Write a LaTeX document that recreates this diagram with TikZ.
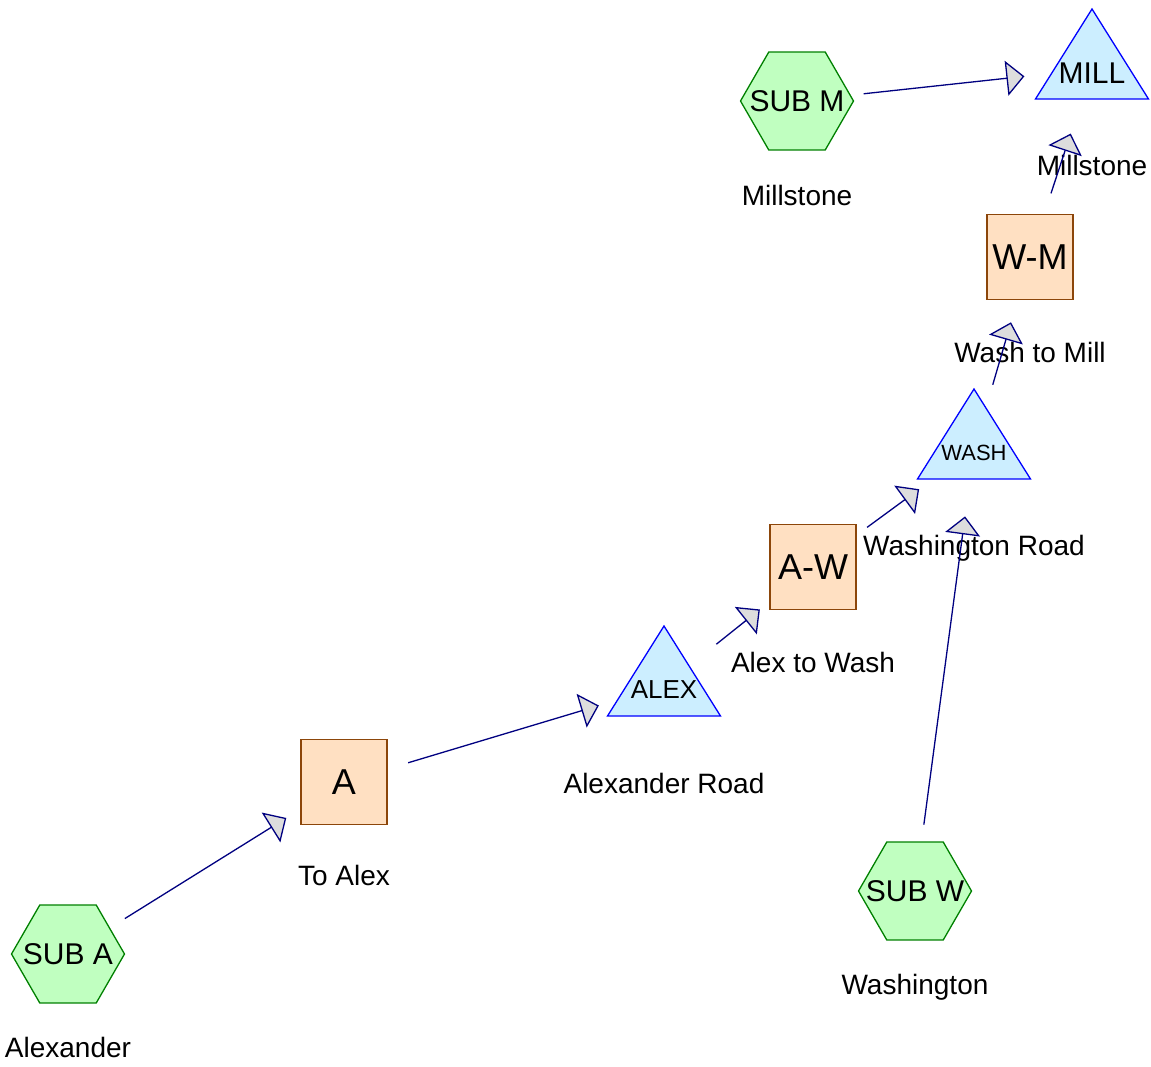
\documentclass[tikz,border=0pt]{standalone}
\usepackage{fontspec}
\setmainfont{Liberation Sans}
\usetikzlibrary{shapes.geometric,arrows.meta}
\definecolor{hexfill}{RGB}{192,255,192}
\definecolor{hexline}{RGB}{0,128,0}
\definecolor{trifill}{RGB}{204,238,255}
\definecolor{triline}{RGB}{0,0,255}
\definecolor{sqfill}{RGB}{255,224,194}
\definecolor{sqline}{RGB}{140,70,10}
\definecolor{edgeline}{RGB}{0,0,128}
\definecolor{arrfill}{RGB}{221,221,221}
\begin{document}
\begin{tikzpicture}[x=0.5pt,y=-0.5pt,
  sub/.style={regular polygon,regular polygon sides=6,minimum size=56.5pt,inner sep=0pt,draw=hexline,fill=hexfill,line width=0.65pt},
  road/.style={regular polygon,regular polygon sides=3,minimum size=65.24pt,inner sep=0pt,yscale=0.9197,transform shape,draw=triline,fill=trifill,line width=0.65pt},
  link/.style={rectangle,minimum width=43pt,minimum height=42.5pt,inner sep=0pt,draw=sqline,fill=sqfill,line width=0.75pt,font=\fontsize{18}{21}\selectfont},
  subtext/.style={inner sep=0pt,font=\fontsize{15}{18}\selectfont},
  roadtext/.style={inner sep=0pt,yshift=-2pt},
  lbl/.style={anchor=base,inner sep=0pt,font=\fontsize{14}{17}\selectfont},
  flow/.style={draw=edgeline,line width=0.65pt,shorten <=33.5pt,shorten >=34pt,-{Triangle[length=9pt,width=17.5pt,fill=arrfill]}}]
\useasboundingbox (0,0) rectangle (1151,1066);
\node[sub,label={[subtext]center:SUB A}] (suba) at (68,954) {};
\node[sub,label={[subtext]center:SUB W}] (subw) at (915,891) {};
\node[sub,label={[subtext]center:SUB M}] (subm) at (797,101) {};
\node[link] (a) at (344,782) {A};
\node[link] (aw) at (813,567) {A-W};
\node[link] (wm) at (1030,257) {W-M};
\node[road,label={[roadtext,font=\fontsize{13}{15}\selectfont]center:ALEX}] (alex) at (664,686) {};
\node[road,label={[roadtext,font=\fontsize{11}{13}\selectfont]center:WASH}] (wash) at (974,449) {};
\node[road,label={[roadtext,font=\fontsize{15}{18}\selectfont]center:MILL}] (mill) at (1092,69) {};
\node[lbl] (lsuba) at (68,1057) {Alexander};
\node[lbl] (la) at (344,885) {To Alex};
\node[lbl] (lalex) at (664,793) {Alexander Road};
\node[lbl] (law) at (813,672) {Alex to Wash};
\node[lbl] (lwash) at (974,555) {Washington Road};
\node[lbl] (lwm) at (1030,362) {Wash to Mill};
\node[lbl] (lmill) at (1092,175) {Millstone};
\node[lbl] (lsubm) at (797,205) {Millstone};
\node[lbl] (lsubw) at (915,994) {Washington};
\draw[flow] (suba.center) -- (a.center);
\draw[flow] (a.center) -- (alex.center);
\draw[flow] (alex.center) -- (aw.center);
\draw[flow] (aw.center) -- (wash.center);
\draw[flow] (subw.center) -- (wash.center);
\draw[flow] (wash.center) -- (wm.center);
\draw[flow] (wm.center) -- (mill.center);
\draw[flow] (subm.center) -- (mill.center);
\end{tikzpicture}
\end{document}
